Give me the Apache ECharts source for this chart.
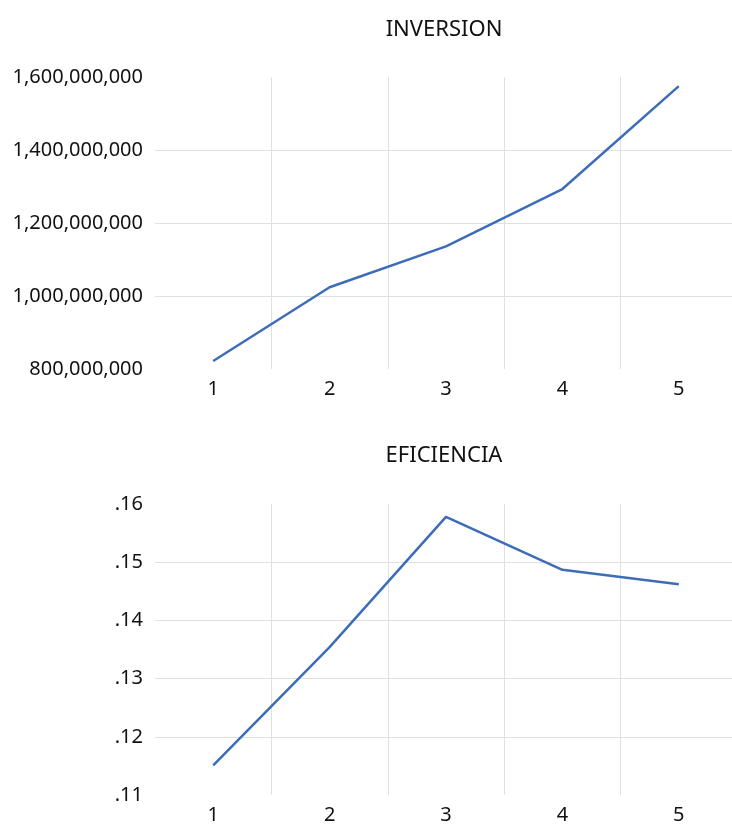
<!DOCTYPE html>
<html>
<head>
<meta charset="utf-8">
<script src="https://cdn.jsdelivr.net/npm/echarts@6/dist/echarts.min.js"></script>
<style>
  html, body { margin: 0; padding: 0; background: #fff; overflow: hidden; }
  #chart { width: 745px; height: 826px; }
</style>
</head>
<body>
<div id="chart"></div>
<script>
// data
var categories = ['1', '2', '3', '4', '5'];
var inversion = [822000000, 1024000000, 1136000000, 1293000000, 1575000000];
var eficiencia = [0.1151, 0.1354, 0.1578, 0.1487, 0.1462];

var font = 'Noto Sans';
var lineColor = '#3e6db8';
var gridColor = '#e0e0e0';
var textColor = '#111';

function fmtBig(v) {
  return v.toString().replace(/\B(?=(\d{3})+(?!\d))/g, ',');
}
function fmtSmall(v) {
  return v.toFixed(2).replace(/^0/, '');
}

function xAxis(gridIndex) {
  return {
    type: 'category',
    gridIndex: gridIndex,
    data: categories,
    boundaryGap: true,
    axisLine: { show: false },
    axisTick: { show: false },
    axisLabel: { color: textColor, fontFamily: font, fontSize: 20, margin: 10 },
    splitLine: { show: true, showMinLine: false, lineStyle: { color: gridColor, width: 1 } }
  };
}

function yAxis(gridIndex, min, max, interval, fmt) {
  return {
    type: 'value',
    gridIndex: gridIndex,
    min: min,
    max: max,
    interval: interval,
    axisLine: { show: false },
    axisTick: { show: false },
    axisLabel: { color: textColor, fontFamily: font, fontSize: 20, margin: 12, formatter: fmt },
    splitLine: {
      show: true, showMinLine: false, showMaxLine: false,
      lineStyle: { color: gridColor, width: 1 }
    }
  };
}

var chart = echarts.init(document.getElementById('chart'));
chart.setOption({
  animation: false,
  title: [
    { text: 'INVERSION', left: 439, top: 14, textAlign: 'center',
      textStyle: { color: textColor, fontFamily: font, fontSize: 22, fontWeight: 'normal' } },
    { text: 'EFICIENCIA', left: 439, top: 440, textAlign: 'center',
      textStyle: { color: textColor, fontFamily: font, fontSize: 22, fontWeight: 'normal' } }
  ],
  grid: [
    { left: 155, top: 77, width: 582, height: 292 },
    { left: 155, top: 504, width: 582, height: 291 }
  ],
  xAxis: [xAxis(0), xAxis(1)],
  yAxis: [
    yAxis(0, 800000000, 1600000000, 200000000, fmtBig),
    yAxis(1, 0.11, 0.16, 0.01, fmtSmall)
  ],
  series: [
    { name: 'INVERSION', type: 'line', xAxisIndex: 0, yAxisIndex: 0, data: inversion,
      showSymbol: false, lineStyle: { color: lineColor, width: 2.5 } },
    { name: 'EFICIENCIA', type: 'line', xAxisIndex: 1, yAxisIndex: 1, data: eficiencia,
      showSymbol: false, lineStyle: { color: lineColor, width: 2.5 } }
  ]
});
</script>
</body>
</html>
